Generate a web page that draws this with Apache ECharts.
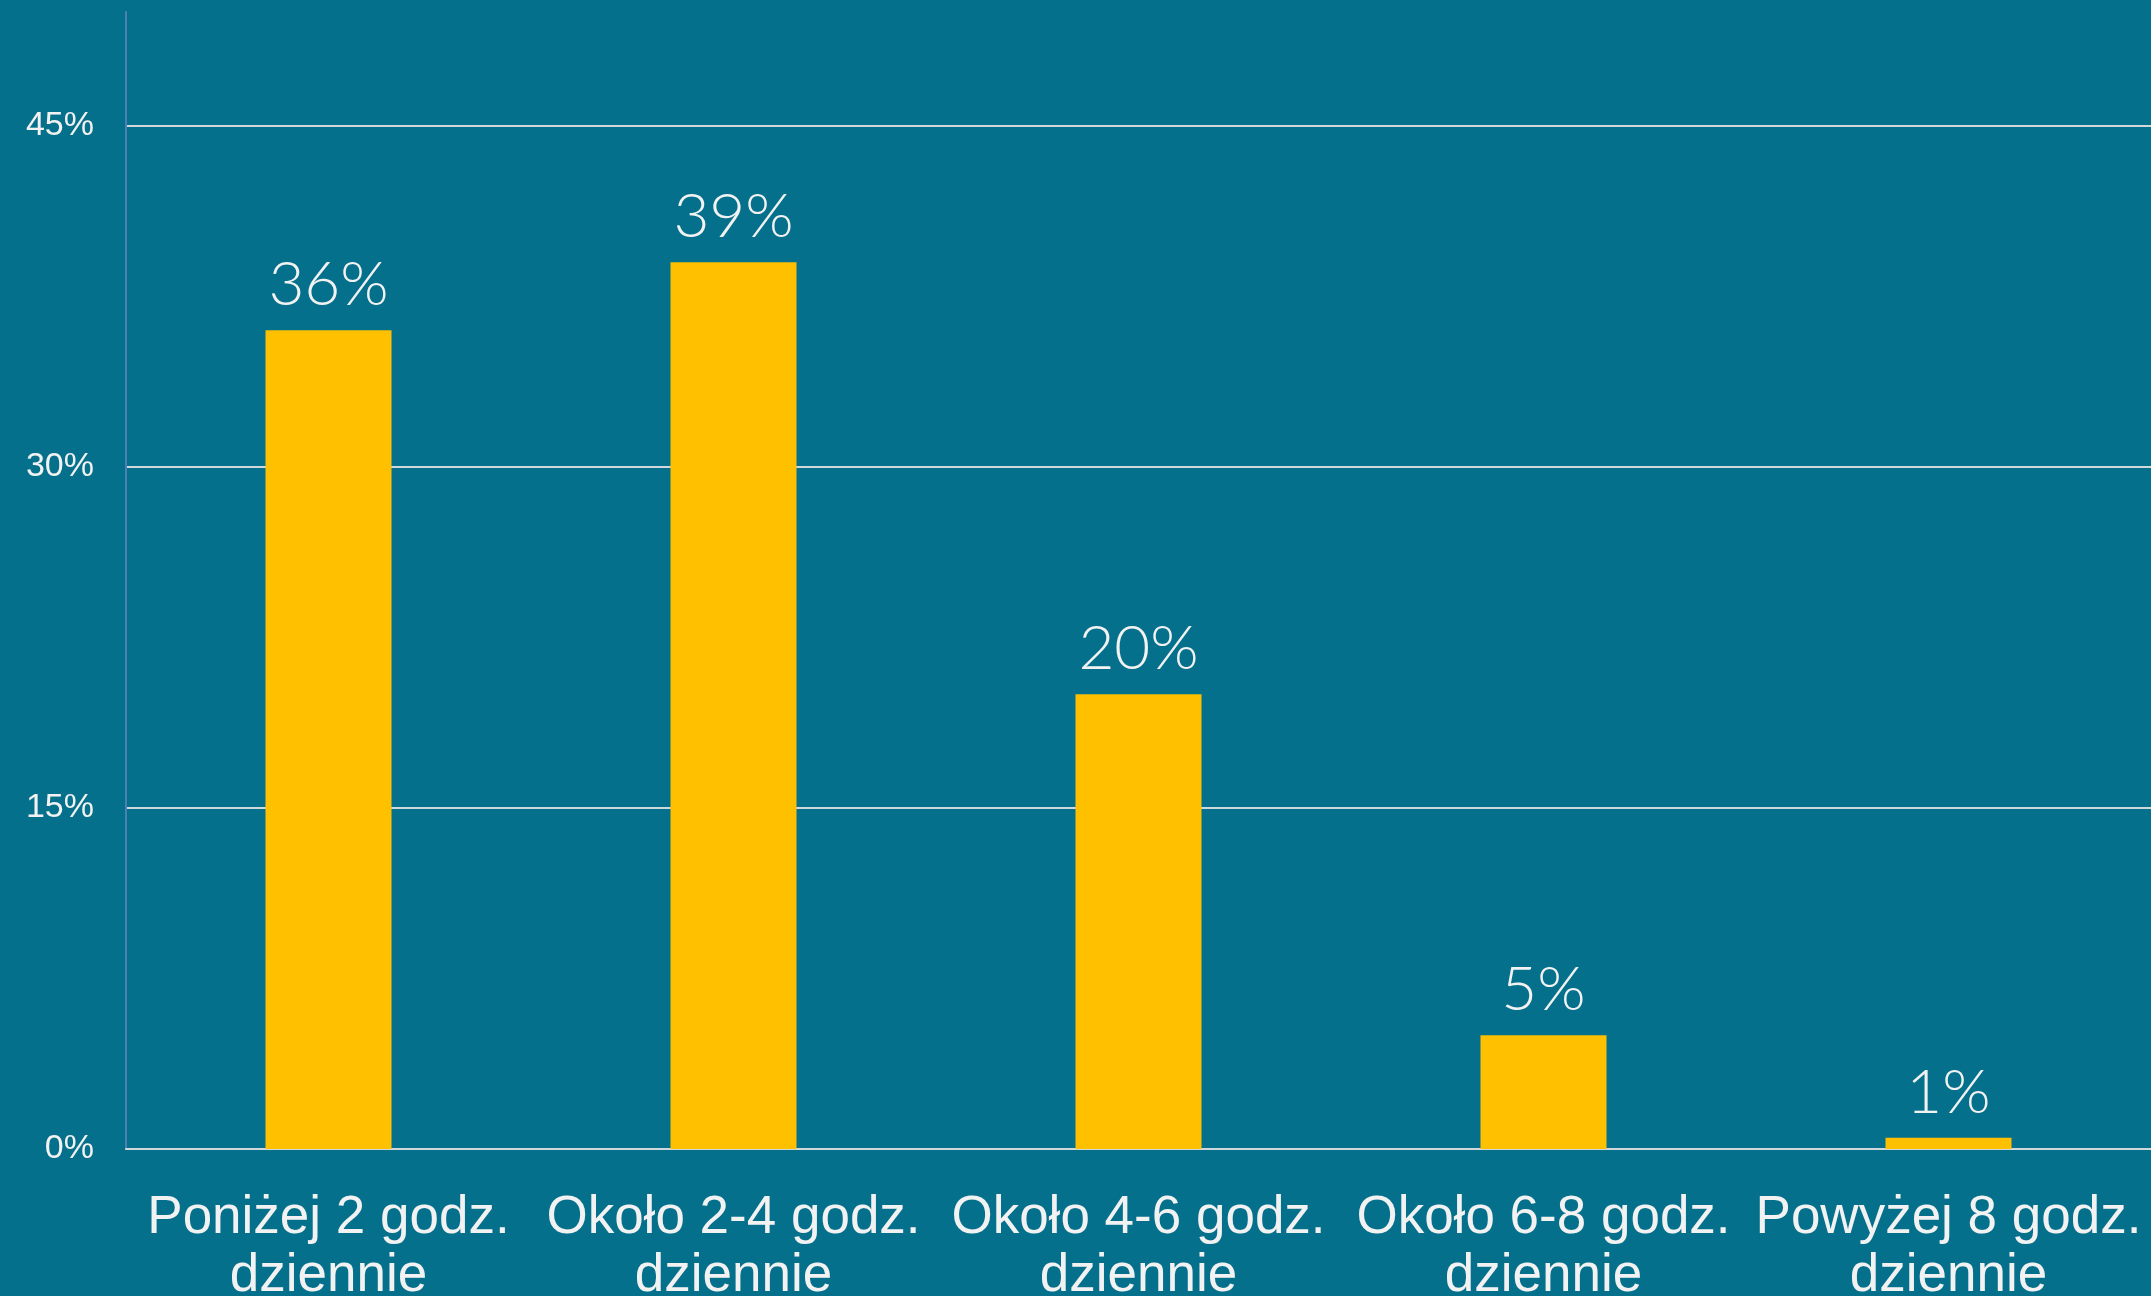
<!DOCTYPE html>
<html>
<head>
<meta charset="utf-8">
<script src="https://cdn.jsdelivr.net/npm/echarts@6/dist/echarts.min.js"></script>
<style>
  html, body { margin: 0; padding: 0; background: #05708c; }
  #chart { width: 2151px; height: 1296px; }
</style>
</head>
<body>
<div id="chart"></div>
<script>
const categories = [
  'Poniżej 2 godz.\ndziennie',
  'Około 2-4 godz.\ndziennie',
  'Około 4-6 godz.\ndziennie',
  'Około 6-8 godz.\ndziennie',
  'Powyżej 8 godz.\ndziennie'
]
// last bar is drawn at about half a percent, labelled as rounded 1%
const values = [36, 39, 20, 5, 0.5]
const yTicks = [0, 15, 30, 45]

const chart = echarts.init(document.getElementById('chart'))
chart.setOption({
  backgroundColor: '#05708c',
  animation: false,
  grid: { left: 126, right: 0, top: 12, bottom: 147, outerBoundsMode: 'none' },
  xAxis: {
    type: 'category',
    data: categories,
    axisLine: { lineStyle: { color: '#d0d8dc', width: 2 } },
    axisTick: { show: false },
    axisLabel: {
      color: '#f2f2f2',
      fontFamily: 'Liberation Sans, Arial',
      fontSize: 53,
      lineHeight: 58,
      margin: 40,
      interval: 0
    }
  },
  yAxis: {
    type: 'value',
    min: 0,
    max: 50,
    axisLine: { show: true, lineStyle: { color: '#4a80b4', width: 2 } },
    axisTick: { show: false, customValues: yTicks },
    axisLabel: {
      customValues: yTicks,
      color: '#f2f2f2',
      fontFamily: 'Liberation Sans, Arial',
      fontSize: 34,
      margin: 32,
      formatter: '{value}%'
    },
    splitLine: { show: true, lineStyle: { color: '#d0d8dc', width: 2 } }
  },
  series: [{
    type: 'bar',
    data: values,
    barWidth: 126,
    itemStyle: { color: '#ffc000' },
    label: {
      show: true,
      position: 'top',
      distance: 14,
      color: '#f2f2f2',
      fontFamily: 'Lato',
      fontWeight: 300,
      fontSize: 62,
      formatter: p => Math.round(p.value) + '%'
    }
  }]
})
</script>
</body>
</html>
